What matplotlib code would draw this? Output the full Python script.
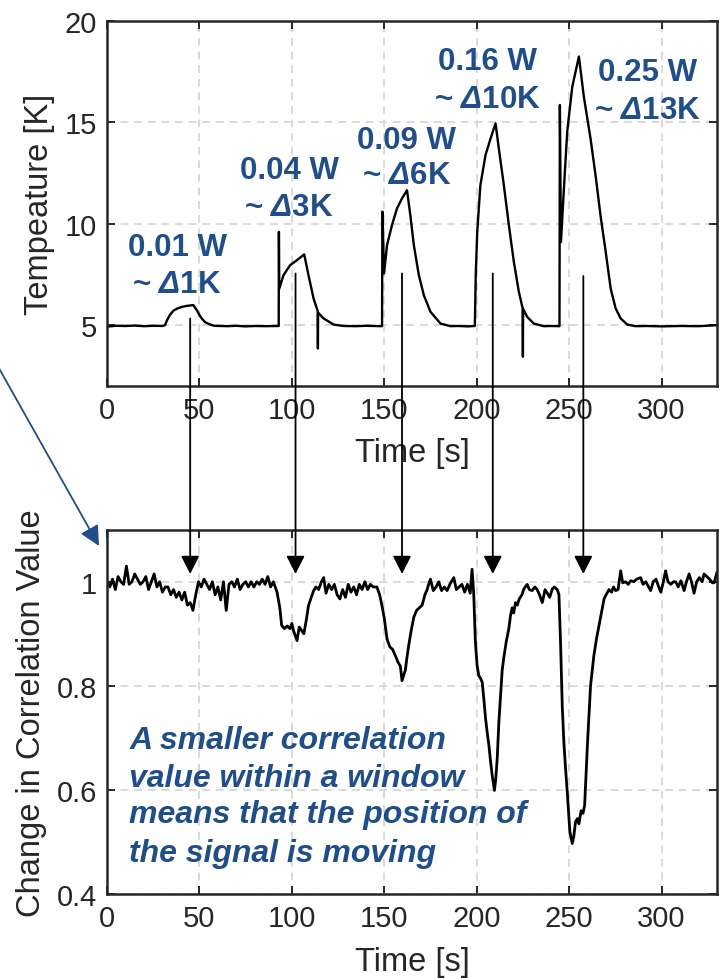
import matplotlib
matplotlib.use('Agg')
import matplotlib.pyplot as plt
from matplotlib.patches import FancyArrowPatch

plt.rcParams['font.family'] = ['Liberation Sans', 'DejaVu Sans']
plt.rcParams['mathtext.fontset'] = 'custom'
plt.rcParams['mathtext.rm'] = 'Liberation Sans:italic:bold'
plt.rcParams['mathtext.it'] = 'Liberation Sans:italic:bold'
plt.rcParams['mathtext.bf'] = 'Liberation Sans:italic:bold'

# temperature trace
temp_time = [0, 5, 10, 15, 20, 25, 30, 31.4, 32.5, 34,
             36, 38, 40.5, 43, 46.7, 48.6, 50, 51.3, 53, 55.8,
             58, 65, 70, 75, 80, 85, 92.9, 93.0, 93.2, 95.5,
             99.1, 102.7, 106.7, 109, 111.8, 114.0, 114.1, 114.2, 117.2, 122.6,
             128, 135, 140, 148.8, 149.0, 149.9, 151.5, 154.2, 156.9, 159.6,
             162.3, 164.1, 166, 168.7, 171.4, 175, 180.4, 185.8, 190, 195,
             199.0, 199.5, 200.3, 202, 204.8, 207.5, 210.2, 212, 214.7, 217.4,
             220.1, 222.8, 224.9, 225.0, 225.1, 227.3, 230.9, 236.3, 240, 244.8,
             245.0, 245.6, 247.5, 249, 251.7, 255.3, 258, 261.6, 264.3, 267,
             269.8, 272.5, 275.2, 277.9, 281.5, 286, 292, 300, 310, 320,
             330]
temp_kelvin = [4.93, 4.97, 4.96, 4.98, 4.95, 4.97, 4.96, 5.0, 5.25, 5.5,
               5.72, 5.82, 5.9, 5.95, 5.99, 5.74, 5.5, 5.33, 5.15, 5.03,
               4.97, 4.95, 4.97, 4.94, 4.96, 4.95, 4.96, 9.6, 6.8, 7.47,
               7.96, 8.2, 8.49, 7.47, 6.3, 5.7, 3.85, 5.62, 5.33, 5.03,
               4.96, 4.95, 4.97, 4.95, 10.6, 7.55, 8.95, 9.94, 10.76, 11.25,
               11.66, 10.43, 8.95, 7.47, 6.48, 5.66, 5.08, 4.95, 4.96, 4.94,
               4.96, 7.5, 9.6, 11.9, 13.4, 14.2, 14.95, 13.7, 11.9, 9.94,
               8.13, 6.65, 5.82, 3.44, 5.8, 5.41, 5.08, 4.95, 4.96, 4.95,
               15.86, 9.1, 12.24, 14.56, 16.75, 18.25, 16.25, 14.2, 12.4, 10.4,
               8.62, 6.8, 5.82, 5.33, 5.03, 4.95, 4.96, 4.94, 4.96, 4.95,
               5.0]

# correlation trace
corr_time = [0, 1.5, 3, 4.5, 6, 7.5, 9, 10.5, 12, 13.5,
             15, 16.5, 18, 19.5, 21, 22.5, 24, 25.5, 27, 28.5,
             30, 31.5, 33, 34.5, 36, 37.5, 39, 40.5, 42, 43.5,
             45, 46.5, 48, 49.5, 51, 52.5, 54, 55.5, 57, 58.5,
             60, 61.5, 63, 64.5, 66, 67.5, 69, 70.5, 72, 73.5,
             75, 76.5, 78, 79.5, 81, 82.5, 84, 85.5, 87, 88.5,
             90, 92, 93.5, 94.5, 96, 97.5, 99, 100, 101, 102.8,
             104, 105.5, 106.5, 108, 109, 110.5, 111.8, 113, 114.5, 116,
             117.2, 118.5, 120, 121.5, 123, 124.5, 126, 127.5, 129, 130.5,
             132, 133.5, 135, 136.5, 138, 139.5, 141, 142.5, 144, 146,
             147.5, 149, 150, 151.5, 153, 154.5, 156, 157.5, 158.7, 159.6,
             160.5, 161.4, 162.3, 163.2, 164.5, 166, 167.5, 169, 170.5, 172,
             173.2, 174, 175, 176.5, 178, 179.5, 181, 182.5, 184, 185.5,
             187.6, 189, 190.5, 192, 193.5, 195, 196.5, 197.5, 198.4, 199.3,
             200.2, 201.1, 202, 203, 204, 204.8, 205.7, 206.6, 207.5, 208.4,
             209.6, 210.3, 211.1, 212, 212.9, 213.8, 214.7, 216, 217.4, 218.3,
             219.2, 220, 221, 222, 223, 224.5, 225.5, 227.3, 228.5, 230,
             231.5, 232.7, 234, 235.5, 237, 238.2, 239.5, 240.9, 242, 243.6,
             244.5, 245.4, 246.3, 247.2, 248.1, 249, 250.4, 251.7, 252.5, 253.5,
             254.5, 255.3, 256.5, 257.5, 258.4, 259.9, 261.6, 263.4, 264.8, 266.2,
             267.5, 268.9, 270, 271.6, 273, 274, 275.2, 276.5, 277.9, 279,
             280.5, 282, 283.3, 285, 286.5, 288.7, 290, 291.5, 293, 294.1,
             295.5, 297, 298.5, 299.6, 301, 302.2, 303.5, 305, 306.5, 307.7,
             309, 310.5, 312.2, 313.5, 314.9, 316.2, 317.6, 319, 320.5, 322,
             323, 324.5, 326, 327.5, 328.4, 330]
corr_value = [1.0, 0.99, 1.005, 0.985, 1.01, 1.0, 0.995, 1.03, 0.995, 1.0,
              1.015, 1.005, 0.995, 1.0, 1.01, 0.985, 1.0, 1.015, 0.99, 1.0,
              0.98, 0.99, 0.99, 0.975, 0.985, 0.97, 0.98, 0.965, 0.98, 0.955,
              0.96, 0.945, 0.975, 1.0, 0.99, 1.005, 0.995, 0.985, 1.0, 0.975,
              0.99, 0.965, 1.0, 0.945, 0.995, 1.0, 0.99, 1.005, 0.985, 0.995,
              1.0, 0.99, 1.0, 0.99, 1.0, 0.995, 1.005, 0.995, 1.01, 0.99,
              1.0, 0.98, 0.95, 0.916, 0.91, 0.915, 0.91, 0.92, 0.905, 0.887,
              0.913, 0.905, 0.9, 0.93, 0.954, 0.97, 0.983, 0.99, 0.985, 1.0,
              1.008, 0.978, 0.995, 0.985, 0.995, 0.975, 0.967, 0.985, 0.97, 0.995,
              0.98, 0.99, 0.975, 0.995, 0.985, 1.0, 0.985, 0.995, 0.99, 0.99,
              0.975, 0.95, 0.93, 0.89, 0.875, 0.87, 0.858, 0.845, 0.838, 0.81,
              0.82, 0.83, 0.855, 0.877, 0.905, 0.932, 0.945, 0.95, 0.955, 0.975,
              0.985, 0.995, 1.005, 0.983, 0.99, 1.0, 0.983, 0.99, 0.983, 0.995,
              1.008, 0.985, 0.99, 0.995, 0.98, 0.995, 0.978, 1.024, 0.977, 0.884,
              0.84, 0.82, 0.815, 0.807, 0.77, 0.737, 0.71, 0.686, 0.655, 0.628,
              0.599, 0.62, 0.66, 0.73, 0.78, 0.83, 0.855, 0.885, 0.91, 0.935,
              0.95, 0.94, 0.96, 0.955, 0.967, 0.975, 0.986, 0.995, 0.985, 0.983,
              0.99, 0.985, 0.975, 0.96, 0.985, 0.978, 0.97, 0.986, 0.99, 0.985,
              0.975, 0.88, 0.76, 0.69, 0.64, 0.596, 0.52, 0.497, 0.51, 0.539,
              0.545, 0.535, 0.56, 0.555, 0.57, 0.686, 0.8, 0.858, 0.89, 0.916,
              0.94, 0.967, 0.975, 0.985, 0.98, 0.99, 0.983, 0.985, 1.021, 0.998,
              1.0, 0.995, 1.002, 1.0, 1.005, 1.008, 0.995, 1.0, 0.99, 0.983,
              1.0, 1.005, 0.99, 0.98, 1.0, 1.021, 1.0, 0.995, 1.0, 1.0,
              0.99, 1.002, 0.983, 1.0, 1.015, 1.0, 0.978, 1.0, 1.008, 1.0,
              1.015, 1.01, 1.005, 0.998, 0.998, 1.018]

power_labels = ['0.01 W', '0.04 W', '0.09 W', '0.16 W', '0.25 W']
delta_labels = ['1K', '3K', '6K', '10K', '13K']
label_time = [38, 98.5, 162, 205.8, 292.5]
power_y = [8.455, 12.24, 13.72, 17.64, 17.09]
delta_y = [6.65, 10.43, 12.0, 15.78, 15.24]

arrow_time = [45, 102, 159.6, 208.7, 257.7]
arrow_start = [5.33, 7.55, 7.55, 7.55, 7.42]
arrow_end = 1.015

note_lines = ['A smaller correlation', 'value within a window',
              'means that the position of', 'the signal is moving']
note_y = [0.6805, 0.6077, 0.5386, 0.463]

BLUE = '#1f4e89'
DARK = '#262626'

fig = plt.figure(figsize=(7.2, 9.79), dpi=100)
ax1 = fig.add_axes([0.1486, 0.6047, 0.8472, 0.3728])
ax2 = fig.add_axes([0.1486, 0.0858, 0.8472, 0.3721])


def style_axes(ax):
    ax.grid(True, linestyle=(0, (4, 3)), color='#d9d9d9', linewidth=1.4)
    ax.set_axisbelow(True)
    ax.tick_params(direction='in', length=6, width=1.4, top=True, right=True,
                   labelsize=21, colors=DARK, pad=7)
    for s in ax.spines.values():
        s.set_color(DARK)
        s.set_linewidth(1.8)
    ax.set_xlim(0, 330)
    ax.set_xticks([0, 50, 100, 150, 200, 250, 300])


# top panel
ax1.plot(temp_time, temp_kelvin, color='black', linewidth=1.7)
style_axes(ax1)
ax1.set_ylim(2, 20)
ax1.set_yticks([5, 10, 15, 20])
ax1.set_xlabel('Time [s]', fontsize=23.5, color=DARK, va='center')
ax1.xaxis.set_label_coords(0.5, -0.183)
ax1.set_ylabel('Tempeature [K]', fontsize=23.5, color=DARK, va='center')
ax1.yaxis.set_label_coords(-0.11, 0.5)

for i in range(len(power_labels)):
    ax1.text(label_time[i], power_y[i], power_labels[i], color=BLUE,
             fontsize=22.5, fontweight='bold', ha='center', va='baseline')
    ax1.text(label_time[i], delta_y[i], '~ $\\Delta$' + delta_labels[i], color=BLUE,
             fontsize=22.5, fontweight='bold', ha='center', va='baseline')

# bottom panel
ax2.plot(corr_time, corr_value, color='black', linewidth=2.0)
style_axes(ax2)
ax2.set_ylim(0.4, 1.1)
ax2.set_yticks([0.4, 0.6, 0.8, 1.0])
ax2.set_yticklabels(['0.4', '0.6', '0.8', '1'])
ax2.set_xlabel('Time [s]', fontsize=23.5, color=DARK, va='center')
ax2.xaxis.set_label_coords(0.5, -0.184)
ax2.set_ylabel('Change in Correlation Value', fontsize=23.5, color=DARK, va='center')
ax2.yaxis.set_label_coords(-0.123, 0.5)

for line, y in zip(note_lines, note_y):
    ax2.text(12, y, line, color=BLUE, fontsize=23, fontweight='bold',
             fontstyle='italic', ha='left', va='baseline')

# arrows linking the heating events to the correlation dips
for t, y0 in zip(arrow_time, arrow_start):
    ax2.annotate('', xy=(t, arrow_end), xycoords='data',
                 xytext=(t, y0), textcoords=ax1.transData,
                 annotation_clip=False,
                 arrowprops=dict(arrowstyle='-|>,head_length=0.55,head_width=0.28',
                                 color='black', lw=1.3, mutation_scale=20,
                                 shrinkA=0, shrinkB=0))

fig.add_artist(FancyArrowPatch((-0.01, 0.634), (0.1375, 0.4413),
                               transform=fig.transFigure,
                               arrowstyle='-|>,head_length=0.6,head_width=0.3',
                               mutation_scale=20, color=BLUE, lw=1.3,
                               shrinkA=0, shrinkB=0))

fig.savefig('out.png', dpi=100)
